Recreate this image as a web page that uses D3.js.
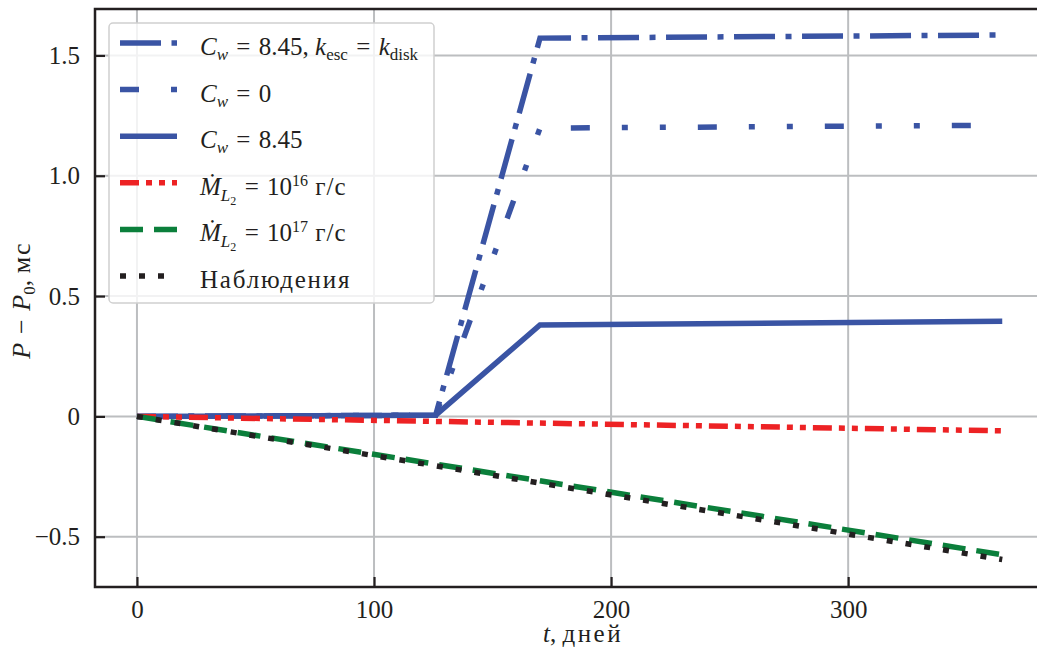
<!DOCTYPE html>
<html>
<head>
<meta charset="utf-8">
<script src="https://cdn.jsdelivr.net/npm/d3@7"></script>
<style>
  body { margin: 0; background: #fff; }
  svg text { font-family: "Liberation Serif", "Times New Roman", serif; }
  .tick text { font-size: 25px; fill: #231f20; }
</style>
</head>
<body>
<div id="chart"></div>
<script>
// model curves (days -> ms)
const tModel = [0, 126, 170, 365];
const cwKescVals = [0, 0.005, 1.572, 1.585];
const cw0Vals    = [0, 0.005, 1.198, 1.21];
const cw845Vals  = [0, 0.005, 0.38, 0.395];
// linear ones
const tLinear    = [0, 365];
const mdot16Vals = [0, -0.06];
const mdot17Vals = [0, -0.575];
const obsVals    = [0, -0.595];

const xTicks = [0, 100, 200, 300];
const yTicks = [-0.5, 0, 0.5, 1.0, 1.5];
const yTickLabels = ['\u22120.5', '0', '0.5', '1.0', '1.5'];

const W = 1037, H = 648;
const pL = 95, pR = 1071, pT = 9, pB = 587;
const blue = '#3a54a4', red = '#ed2224', green = '#0b7f3b', black = '#231f20';
const serif = '"Liberation Serif", "Times New Roman", serif';

const series = [
  { t: tModel,  v: cwKescVals, color: blue,  dash: '41,10.5,6,10.5' },
  { t: tModel,  v: cw0Vals,    color: blue,  dash: '19,32,6,32,6,32' },
  { t: tModel,  v: cw845Vals,  color: blue,  dash: null },
  { t: tLinear, v: mdot16Vals, color: red,   dash: '19,7,6,7,6,7' },
  { t: tLinear, v: mdot17Vals, color: green, dash: '23,11' },
  { t: tLinear, v: obsVals,    color: black, dash: '6,13' }
];

const svg = d3.select('#chart').append('svg')
  .attr('width', W).attr('height', H)
  .attr('font-family', serif);

const x = d3.scaleLinear().domain([-17.7, 394]).range([pL, pR]);
const y = d3.scaleLinear().domain([-0.709, 1.693]).range([pB, pT]);

svg.append('clipPath').attr('id', 'clip')
  .append('rect').attr('x', pL).attr('y', pT)
  .attr('width', pR - pL).attr('height', pB - pT);

// grid
const grid = svg.append('g').attr('stroke', '#bcbec0').attr('stroke-width', 2);
grid.selectAll('.gx').data(xTicks).enter().append('line')
  .attr('x1', d => x(d)).attr('x2', d => x(d)).attr('y1', pT).attr('y2', pB);
grid.selectAll('.gy').data(yTicks).enter().append('line')
  .attr('x1', pL).attr('x2', pR).attr('y1', d => y(d)).attr('y2', d => y(d));

// lines
const line = d3.line().x(d => x(d[0])).y(d => y(d[1]));
const lg = svg.append('g').attr('clip-path', 'url(#clip)');
series.forEach(s => {
  lg.append('path')
    .attr('d', line(s.t.map((t, i) => [t, s.v[i]])))
    .attr('fill', 'none')
    .attr('stroke', s.color)
    .attr('stroke-width', 5.5)
    .attr('stroke-linejoin', 'miter')
    .attr('stroke-dasharray', s.dash);
});

// axes
const xAxis = svg.append('g').attr('transform', `translate(0,${pB})`)
  .call(d3.axisBottom(x).tickValues(xTicks).tickSize(-10).tickPadding(13).tickFormat(d3.format('d')));
const yAxis = svg.append('g').attr('transform', `translate(${pL},0)`)
  .call(d3.axisLeft(y).tickValues(yTicks).tickSize(-10).tickPadding(15)
    .tickFormat((d, i) => yTickLabels[i]));
[xAxis, yAxis].forEach(a => {
  a.attr('font-family', serif).attr('font-size', 25);
  a.select('.domain').remove();
  a.selectAll('.tick line').attr('stroke', black).attr('stroke-width', 2.2);
});
// spines
svg.append('rect').attr('x', pL).attr('y', pT)
  .attr('width', pR - pL).attr('height', pB - pT)
  .attr('fill', 'none').attr('stroke', black).attr('stroke-width', 2.5);

// axis titles
const xt = svg.append('text').attr('x', 583).attr('y', 642)
  .attr('text-anchor', 'middle').attr('font-size', 25).attr('fill', black);
xt.append('tspan').attr('font-style', 'italic').text('t');
xt.append('tspan').text(', ');
xt.append('tspan').attr('letter-spacing', 2.5).text('дней');

const yt = svg.append('text')
  .attr('transform', 'translate(30,300) rotate(-90)')
  .attr('text-anchor', 'middle').attr('font-size', 26).attr('fill', black);
yt.append('tspan').attr('font-style', 'italic').text('P');
yt.append('tspan').text('\u2004\u2212\u2004');
yt.append('tspan').attr('font-style', 'italic').text('P');
yt.append('tspan').attr('font-size', 17).attr('dy', 5).text('0');
yt.append('tspan').attr('dy', -5).text(', ');
yt.append('tspan').attr('letter-spacing', 2).text('мс');

// legend
const leg = svg.append('g');
leg.append('rect').attr('x', 109).attr('y', 23).attr('width', 325).attr('height', 280)
  .attr('rx', 4).attr('fill', 'white').attr('fill-opacity', 0.8)
  .attr('stroke', '#d0d0d0').attr('stroke-width', 1.5);

const sub = (txt, parts) => parts.forEach(p => {
  const ts = txt.append('tspan').text(p.s);
  if (p.i) ts.attr('font-style', 'italic');
  if (p.fs) ts.attr('font-size', p.fs);
  if (p.dy) ts.attr('dy', p.dy);
  if (p.ls) ts.attr('letter-spacing', p.ls);
});

const EQ = '\u2004=\u2004';
const legendParts = [
  [{s: 'C', i: 1}, {s: 'w', i: 1, fs: 17, dy: 5}, {s: EQ + '8.45, ', dy: -5},
   {s: 'k', i: 1}, {s: 'esc', fs: 17, dy: 5}, {s: EQ, dy: -5}, {s: 'k', i: 1}, {s: 'disk', fs: 17, dy: 5}],
  [{s: 'C', i: 1}, {s: 'w', i: 1, fs: 17, dy: 5}, {s: EQ + '0', dy: -5}],
  [{s: 'C', i: 1}, {s: 'w', i: 1, fs: 17, dy: 5}, {s: EQ + '8.45', dy: -5}],
  [{s: '\u1E40', i: 1}, {s: 'L', i: 1, fs: 17, dy: 6}, {s: '2', fs: 12, dy: 4}, {s: EQ + '10', dy: -10},
   {s: '16', fs: 16, dy: -9}, {s: ' г/с', dy: 9, ls: 1}],
  [{s: '\u1E40', i: 1}, {s: 'L', i: 1, fs: 17, dy: 6}, {s: '2', fs: 12, dy: 4}, {s: EQ + '10', dy: -10},
   {s: '17', fs: 16, dy: -9}, {s: ' г/с', dy: 9, ls: 1}],
  [{s: 'Наблюдения', ls: 1.8}]
];

series.forEach((s, i) => {
  const by = 55 + i * 46.6;
  leg.append('line').attr('x1', 120).attr('x2', 177)
    .attr('y1', by - 12).attr('y2', by - 12)
    .attr('stroke', s.color).attr('stroke-width', 5.5)
    .attr('stroke-dasharray', s.dash);
  const txt = leg.append('text').attr('x', 200).attr('y', by)
    .attr('font-size', 25).attr('fill', black);
  sub(txt, legendParts[i]);
});
</script>
</body>
</html>
